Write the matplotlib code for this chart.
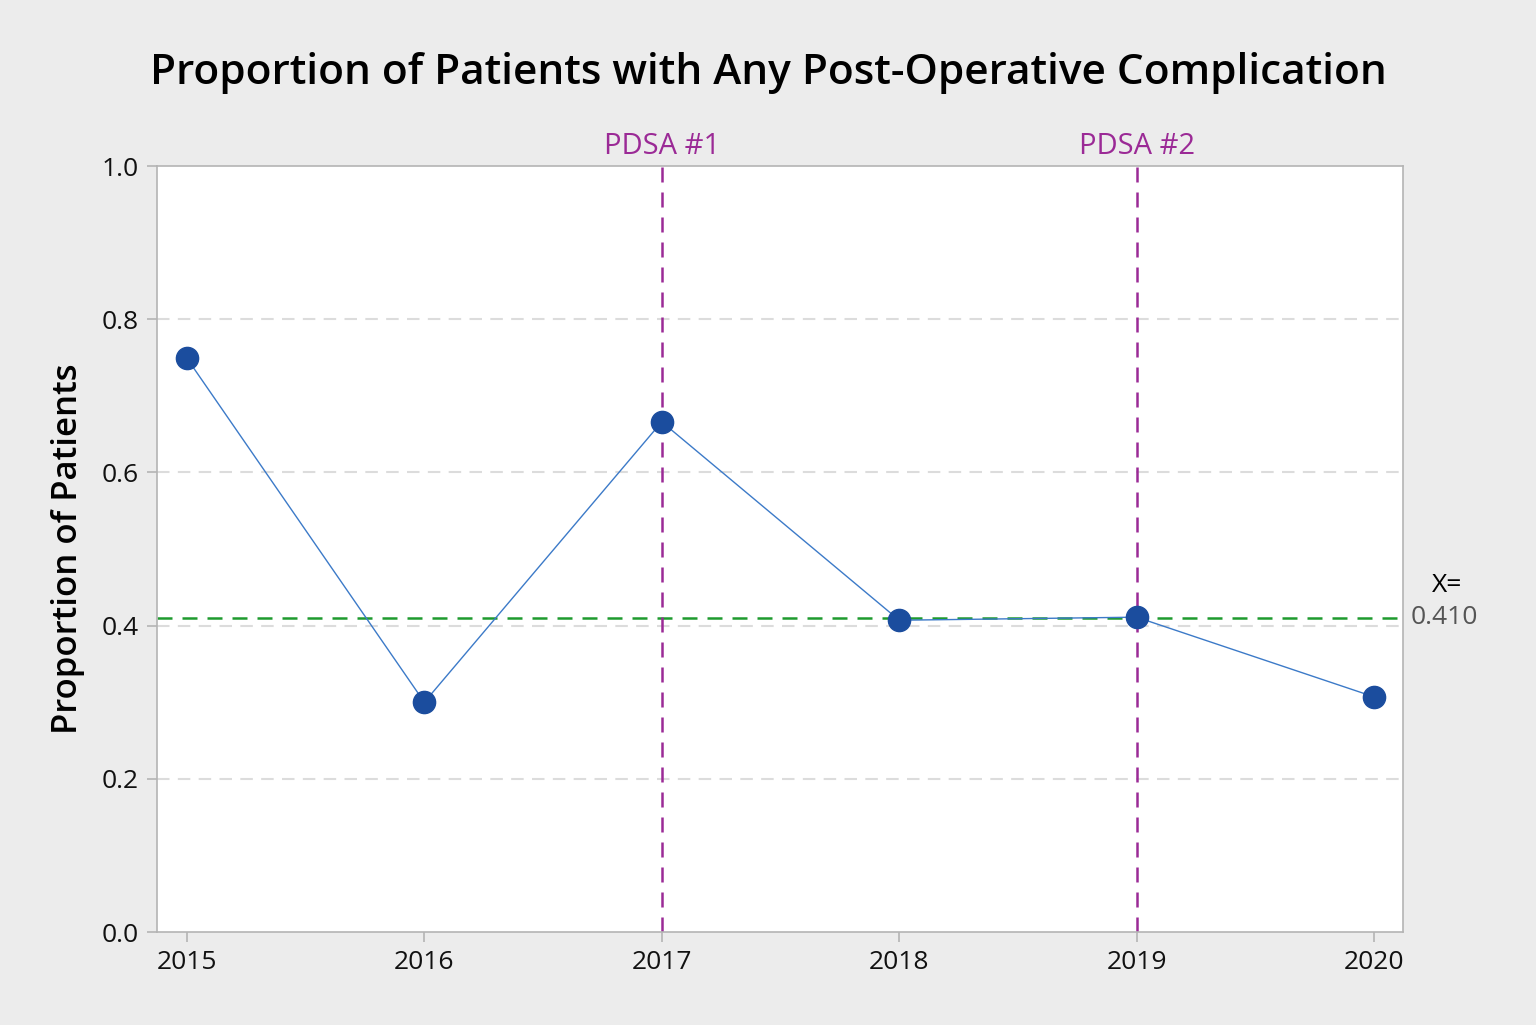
import matplotlib.pyplot as plt

# data
years = [2015, 2016, 2017, 2018, 2019, 2020]
proportion = [0.749, 0.300, 0.666, 0.407, 0.411, 0.307]
mean_value = 0.410
pdsa_years = [2017, 2019]
pdsa_labels = ["PDSA #1", "PDSA #2"]
y_ticks = [0.0, 0.2, 0.4, 0.6, 0.8, 1.0]
y_tick_labels = ["0.0", "0.2", "0.4", "0.6", "0.8", "1.0"]

plt.rcParams['font.family'] = ['Open Sans', 'DejaVu Sans']

bg = '#ececec'
fig = plt.figure(figsize=(15.36, 10.25), dpi=100, facecolor=bg)
ax = fig.add_axes([157 / 1536, 1 - 932 / 1025, (1403 - 157) / 1536, (932 - 166) / 1025])
ax.set_facecolor('white')

# grid
for y in [0.2, 0.4, 0.6, 0.8]:
    ax.axhline(y, color='#dcdcdc', lw=1.5, ls=(0, (6, 4)), zorder=1)

# mean line
ax.axhline(mean_value, color='#1e9a2e', lw=1.8, ls=(0, (6, 4)), zorder=2)

# PDSA lines
for yr, lab in zip(pdsa_years, pdsa_labels):
    ax.axvline(yr, color='#9b2a96', lw=1.8, ls=(0, (6, 4)), zorder=2)
    ax.text(yr, 1.006, lab, color='#9b2a96', fontsize=21, ha='center', va='bottom',
            fontweight='medium', transform=ax.get_xaxis_transform())

ax.plot(years, proportion, color='#3c7ac8', lw=1.0, zorder=3)
ax.plot(years, proportion, 'o', color='#1b4d9e', markersize=16, zorder=4)

ax.set_xlim(2014.874, 2020.122)
ax.set_ylim(0, 1.0)
ax.set_xticks(years)
ax.set_xticklabels([str(y) for y in years], fontsize=19, color='#111111')
ax.set_yticks(y_ticks)
ax.set_yticklabels(y_tick_labels, fontsize=19, color='#111111')
ax.tick_params(axis='both', length=7, width=1.2, color='#b4b4b4', pad=6)
for s in ax.spines.values():
    s.set_color('#b4b4b4')
    s.set_linewidth(1.2)

ax.set_ylabel('Proportion of Patients', fontsize=25, fontweight='semibold', labelpad=12)

# mean annotation on the right
ax.text(1.035, 0.453, 'X=', fontsize=19, ha='center', va='center', transform=ax.transAxes)
ax.text(1.033, mean_value, '0.410', fontsize=19, ha='center', va='center', color='#555555',
        transform=ax.get_yaxis_transform())

fig.suptitle('Proportion of Patients with Any Post-Operative Complication', fontsize=30.5,
             fontweight='semibold', y=1 - 73 / 1025, va='center')

fig.savefig('out.png', dpi=100, facecolor=bg)
